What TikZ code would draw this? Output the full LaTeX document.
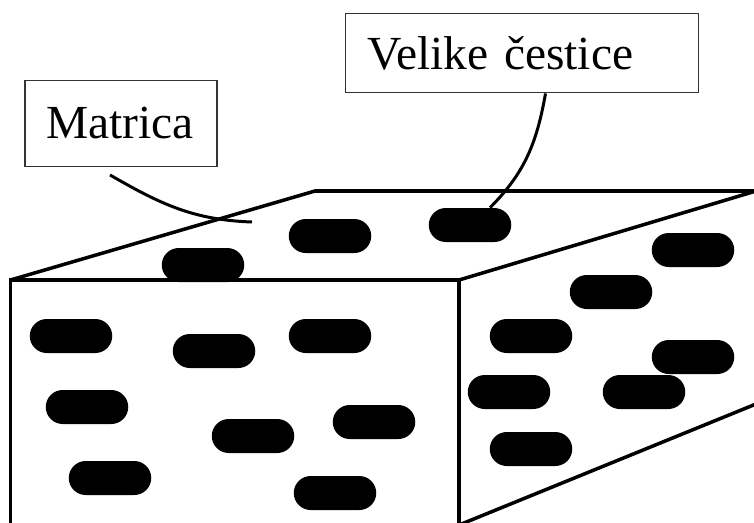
\documentclass[tikz,border=0pt]{standalone}
\usepackage{fontspec}
\setmainfont{Liberation Serif}

\tikzset{
  particle/.style={rectangle, rounded corners=0.34cm, fill=black, minimum width=1.65cm, minimum height=0.68cm, inner sep=0pt},
  tag/.style={draw=black!80, line width=0.8pt, inner xsep=0.43cm, inner ysep=0pt, align=left, font=\fontsize{27}{32}\selectfont},
  edge/.style={line width=2pt},
  lead/.style={line width=1.7pt},
}

\begin{document}
\begin{tikzpicture}
  \useasboundingbox (0,0) rectangle (15.08,10.44);

  % particles: front face, top face, right face
  \foreach \n/\x/\y in {1/1.42/3.72, 2/4.28/3.42, 3/6.60/3.72, 4/1.74/2.30,
                        5/5.06/1.72, 6/7.48/2.00, 7/2.20/0.88, 8/6.70/0.58,
                        9/4.06/5.14, 10/6.60/5.72, 11/9.40/5.94,
                        12/13.86/5.44, 13/12.22/4.60, 14/10.62/3.72, 15/13.86/3.30,
                        16/10.18/2.60, 17/12.88/2.60, 18/10.62/1.46}
    \node[particle] (p\n) at (\x,\y) {};

  % the block
  \draw [edge] (0.21,-0.2) -- (0.21,4.84) -- (9.18,4.84) -- (9.18,-0.2);
  \draw [edge] (0.21,4.84) -- (6.30,6.62) -- (15.12,6.62);
  \draw [edge] (9.18,4.84) -- (15.12,6.62);
  \draw [edge] (9.18,-0.06) -- (15.12,2.36);

  \node[tag, text width=2.98cm, minimum height=1.73cm] (matrica) at (2.42,7.97) {Matrica};
  \node[tag, text width=6.20cm, minimum height=1.59cm] (velike) at (10.44,9.38) {Velike čestice};

  \coordinate (matrix) at (5.04,6.00);
  \draw [lead] ([xshift=-0.22cm,yshift=-0.15cm]matrica.south) to[out=-30,in=178] (matrix);
  \draw [lead] ([xshift=0.47cm]velike.south) to[out=-100,in=45] ([xshift=0.4cm]p11.north);
\end{tikzpicture}
\end{document}
